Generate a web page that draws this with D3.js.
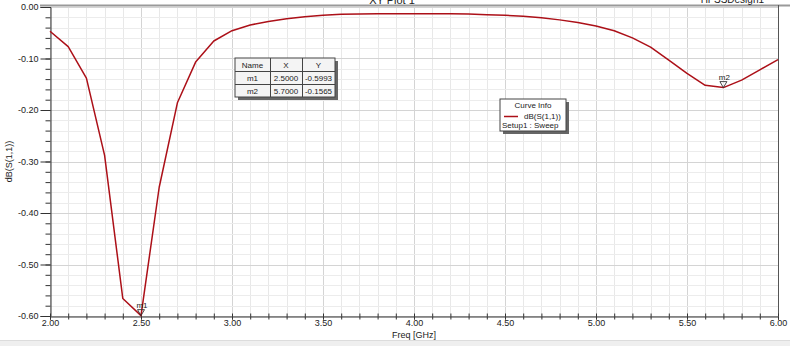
<!DOCTYPE html>
<html><head><meta charset="utf-8">
<script src="https://cdn.jsdelivr.net/npm/d3@7"></script>
<style>body{margin:0;background:#fff;}svg{display:block;font-family:"Liberation Sans",Arial,sans-serif;}</style>
</head><body><svg id="c" width="790" height="346"></svg>
<script>
const freq = [2.0,2.1,2.2,2.3,2.4,2.5,2.6,2.7,2.8,2.9,3.0,3.1,3.2,3.3,3.4,3.5,3.6,3.7,3.8,3.9,4.0,4.1,4.2,4.3,4.4,4.5,4.6,4.7,4.8,4.9,5.0,5.1,5.2,5.3,5.4,5.5,5.6,5.7,5.8,5.9,6.0];
const s11 = [-0.047,-0.077,-0.138,-0.288,-0.566,-0.5993,-0.350,-0.186,-0.107,-0.066,-0.046,-0.035,-0.028,-0.023,-0.019,-0.016,-0.014,-0.0135,-0.013,-0.013,-0.013,-0.013,-0.013,-0.0135,-0.015,-0.016,-0.018,-0.021,-0.025,-0.030,-0.037,-0.046,-0.060,-0.078,-0.103,-0.129,-0.152,-0.1565,-0.142,-0.122,-0.102];
const xTicks = [2.0,2.5,3.0,3.5,4.0,4.5,5.0,5.5,6.0];
const yTicks = [0,-0.1,-0.2,-0.3,-0.4,-0.5,-0.6];
const markerNames = ["m1","m2"];
const markerX = [2.5,5.7];
const markerY = [-0.5993,-0.1565];

const svg = d3.select("#c");
const L=50,R=778,T=7,B=316;
const x = d3.scaleLinear().domain([2,6]).range([L,R]);
const y = d3.scaleLinear().domain([-0.6,0]).range([B,T]);
const fmt = v => (v<0?"-":"") + Math.abs(v).toFixed(2);

// bottom band
svg.append("rect").attr("x",0).attr("y",340).attr("width",790).attr("height",6).attr("fill","#efefef");
svg.append("line").attr("x1",0).attr("x2",790).attr("y1",340.5).attr("y2",340.5).attr("stroke","#dcdcdc");

// grid
const g = svg.append("g");
d3.range(20,61).map(d=>d/10).forEach(v=>{
  const major = Math.abs(v*2-Math.round(v*2))<1e-6;
  g.append("line").attr("x1",Math.round(x(v))+0.5).attr("x2",Math.round(x(v))+0.5).attr("y1",T).attr("y2",B)
   .attr("stroke",major?"#d4d4d4":"#e8e8e8");
});
d3.range(0,31).map(d=>-d*0.02).forEach(v=>{
  const major = Math.abs(v*10-Math.round(v*10))<1e-6;
  g.append("line").attr("x1",L).attr("x2",R).attr("y1",Math.round(y(v))+0.5).attr("y2",Math.round(y(v))+0.5)
   .attr("stroke",major?"#d4d4d4":"#ececec");
});

// frame
svg.append("line").attr("x1",40).attr("x2",790).attr("y1",5.5).attr("y2",5.5).attr("stroke","#9a9a9a").attr("stroke-width",2);
svg.append("line").attr("x1",R+0.5).attr("x2",R+0.5).attr("y1",5).attr("y2",B).attr("stroke","#555");

// axes
const yAxis = d3.axisLeft(y).tickValues(yTicks).tickFormat(fmt).tickSize(10).tickPadding(2);
const ya = svg.append("g").attr("transform",`translate(${L+0.5},0)`).call(yAxis);
ya.select(".domain").attr("stroke","#333");
ya.selectAll(".tick line").attr("stroke","#333");
ya.selectAll("text").attr("font-size",9).attr("fill","#222").attr("font-family","Liberation Sans, Arial");
const yMinor = d3.axisLeft(y).tickValues(d3.range(0,31).map(d=>-d*0.02)).tickSize(5).tickFormat("");
const ym = svg.append("g").attr("transform",`translate(${L+0.5},0)`).call(yMinor);
ym.select(".domain").remove(); ym.selectAll(".tick line").attr("stroke","#333");

const xAxis = d3.axisBottom(x).tickValues(xTicks).tickFormat(fmt).tickSize(3).tickPadding(0);
const xa = svg.append("g").attr("transform",`translate(0,${B+0.5})`).call(xAxis);
xa.select(".domain").attr("stroke","#333");
xa.selectAll(".tick line").attr("stroke","#333");
xa.selectAll("text").attr("font-size",9).attr("fill","#222").attr("font-family","Liberation Sans, Arial");
const xMinor = d3.axisBottom(x).tickValues(d3.range(20,61).map(d=>d/10)).tickSize(3).tickFormat("");
const xm = svg.append("g").attr("transform",`translate(0,${B+0.5})`).call(xMinor);
xm.select(".domain").remove(); xm.selectAll(".tick line").attr("stroke","#333");
xm.selectAll(".tick").append("line").attr("y1",0).attr("y2",-3).attr("stroke","#333");

svg.append("text").attr("x",x(4)).attr("y",337.5).attr("text-anchor","middle").attr("font-size",9).attr("fill","#222").text("Freq [GHz]");
svg.append("text").attr("transform",`translate(12,${(T+B)/2}) rotate(-90)`).attr("text-anchor","middle").attr("font-size",9).attr("fill","#222").text("dB(S(1,1))");

// title (cut off at top, as in the reference)
svg.append("text").attr("x",392).attr("y",4).attr("text-anchor","middle").attr("font-size",11).attr("fill","#222").text("XY Plot 1");
svg.append("text").attr("x",764).attr("y",3).attr("text-anchor","end").attr("font-size",10).attr("fill","#222").text("HFSSDesign1");

// curve
const line = d3.line().x((d,i)=>x(freq[i])).y(d=>y(d));
svg.append("path").datum(s11).attr("d",line).attr("fill","none").attr("stroke","#ac1018").attr("stroke-width",1.5).attr("stroke-linejoin","round");

// markers
markerNames.forEach((n,i)=>{
  const px=x(markerX[i]), py=y(markerY[i]);
  svg.append("path").attr("d",`M${px-3.5},${py-6}L${px+3.5},${py-6}L${px},${py}Z`).attr("fill","none").attr("stroke","#333").attr("stroke-width",0.9);
  svg.append("text").attr("x",px+1).attr("y",py-8).attr("text-anchor","middle").attr("font-size",8).attr("fill","#222").text(n);
});

// marker table
const tX=235,tY=58,tW=100,rowH=13,cols=[35,32,33];
svg.append("rect").attr("x",tX+3).attr("y",tY+3).attr("width",tW).attr("height",rowH*3).attr("fill","#666");
svg.append("rect").attr("x",tX).attr("y",tY).attr("width",tW).attr("height",rowH*3).attr("fill","#f4f4f4").attr("stroke","#444");
const rows=[["Name","X","Y"]].concat(markerNames.map((n,i)=>[n,markerX[i].toFixed(4),markerY[i].toFixed(4)]));
rows.forEach((r,ri)=>{
  if(ri>0) svg.append("line").attr("x1",tX).attr("x2",tX+tW).attr("y1",tY+ri*rowH+0.5).attr("y2",tY+ri*rowH+0.5).attr("stroke","#444");
  let cx=tX;
  r.forEach((c,ci)=>{
    if(ci>0) svg.append("line").attr("x1",cx+0.5).attr("x2",cx+0.5).attr("y1",tY).attr("y2",tY+rowH*3).attr("stroke","#444");
    svg.append("text").attr("x",cx+cols[ci]/2).attr("y",tY+ri*rowH+9.5).attr("text-anchor","middle").attr("font-size",8).attr("fill","#222").text(c);
    cx+=cols[ci];
  });
});

// curve info
const cX=500,cY=99,cW=66,cH=32;
svg.append("rect").attr("x",cX+3).attr("y",cY+3).attr("width",cW).attr("height",cH).attr("fill","#666");
svg.append("rect").attr("x",cX).attr("y",cY).attr("width",cW).attr("height",cH).attr("fill","#fff").attr("stroke","#444");
svg.append("text").attr("x",cX+cW/2).attr("y",cY+9).attr("text-anchor","middle").attr("font-size",8).attr("fill","#222").text("Curve Info");
svg.append("line").attr("x1",cX+4).attr("x2",cX+18).attr("y1",cY+17.5).attr("y2",cY+17.5).attr("stroke","#ac1018").attr("stroke-width",1.5);
svg.append("text").attr("x",cX+24).attr("y",cY+20).attr("font-size",8).attr("fill","#222").text("dB(S(1,1))");
svg.append("text").attr("x",cX+2).attr("y",cY+29).attr("font-size",8).attr("fill","#222").text("Setup1 : Sweep");
</script></body></html>
